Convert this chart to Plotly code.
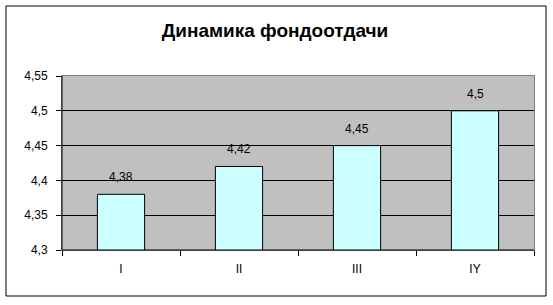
import plotly.graph_objects as go

categories = ["I", "II", "III", "IY"]
values = [4.38, 4.42, 4.45, 4.5]
labels = [str(v).replace(".", ",") for v in values]
y_ticks = [4.3, 4.35, 4.4, 4.45, 4.5, 4.55]
y_tick_text = [str(v).replace(".", ",") for v in y_ticks]
title_text = "Динамика фондоотдачи"

W, H = 553, 305
L, R, T, B = 62, 19, 76, 55
pw, ph = W - L - R, H - T - B

fig = go.Figure()
fig.add_trace(go.Bar(
    x=categories, y=values,
    marker=dict(color="#CCFFFF", line=dict(color="black", width=1)),
    hoverinfo="skip",
))

annotations = [dict(x=c, y=v, text=t, showarrow=False, yshift=17, xref="x", yref="y",
                    font=dict(size=12, color="black", family="Liberation Sans, Arial"))
               for c, v, t in zip(categories, values, labels)]

shapes = [
    # outer chart border
    dict(type="rect", xref="paper", yref="paper",
         x0=(6 - L) / pw, x1=(546 - L) / pw, y0=(H - B - 296) / ph, y1=(H - B - 6) / ph,
         line=dict(color="black", width=1), fillcolor="rgba(0,0,0,0)", layer="below"),
    # black left and bottom axis lines
    dict(type="line", xref="paper", yref="paper", x0=0, x1=0, y0=0, y1=1,
         line=dict(color="black", width=1), layer="above"),
    dict(type="line", xref="paper", yref="paper", x0=0, x1=1, y0=0, y1=0,
         line=dict(color="black", width=1), layer="above"),
]

fig.update_layout(
    width=W, height=H,
    margin=dict(l=L, r=R, t=T, b=B),
    paper_bgcolor="white", plot_bgcolor="#C0C0C0",
    font=dict(family="Liberation Sans, Arial", size=12, color="black"),
    title=dict(text="<b>" + title_text + "</b>", x=275 / W, xref="container", xanchor="center",
               y=1 - 30 / H, yanchor="middle",
               font=dict(size=19, color="black", family="Liberation Sans, Arial")),
    bargap=0.6,
    showlegend=False,
    annotations=annotations,
    shapes=shapes,
    xaxis=dict(type="category", showgrid=False, showline=True, linecolor="#808080", mirror=True,
               ticks="outside", tickson="boundaries", ticklen=5, tickcolor="black",
               ticklabelstandoff=8, tickfont=dict(size=12)),
    yaxis=dict(range=[4.3, 4.55], tickvals=y_ticks, ticktext=y_tick_text,
               showgrid=True, gridcolor="black", gridwidth=1, zeroline=False,
               showline=True, linecolor="#808080", mirror=True,
               ticks="outside", ticklen=5, tickcolor="black", ticklabelstandoff=6,
               tickfont=dict(size=12)),
)

fig.write_html("out.html")
